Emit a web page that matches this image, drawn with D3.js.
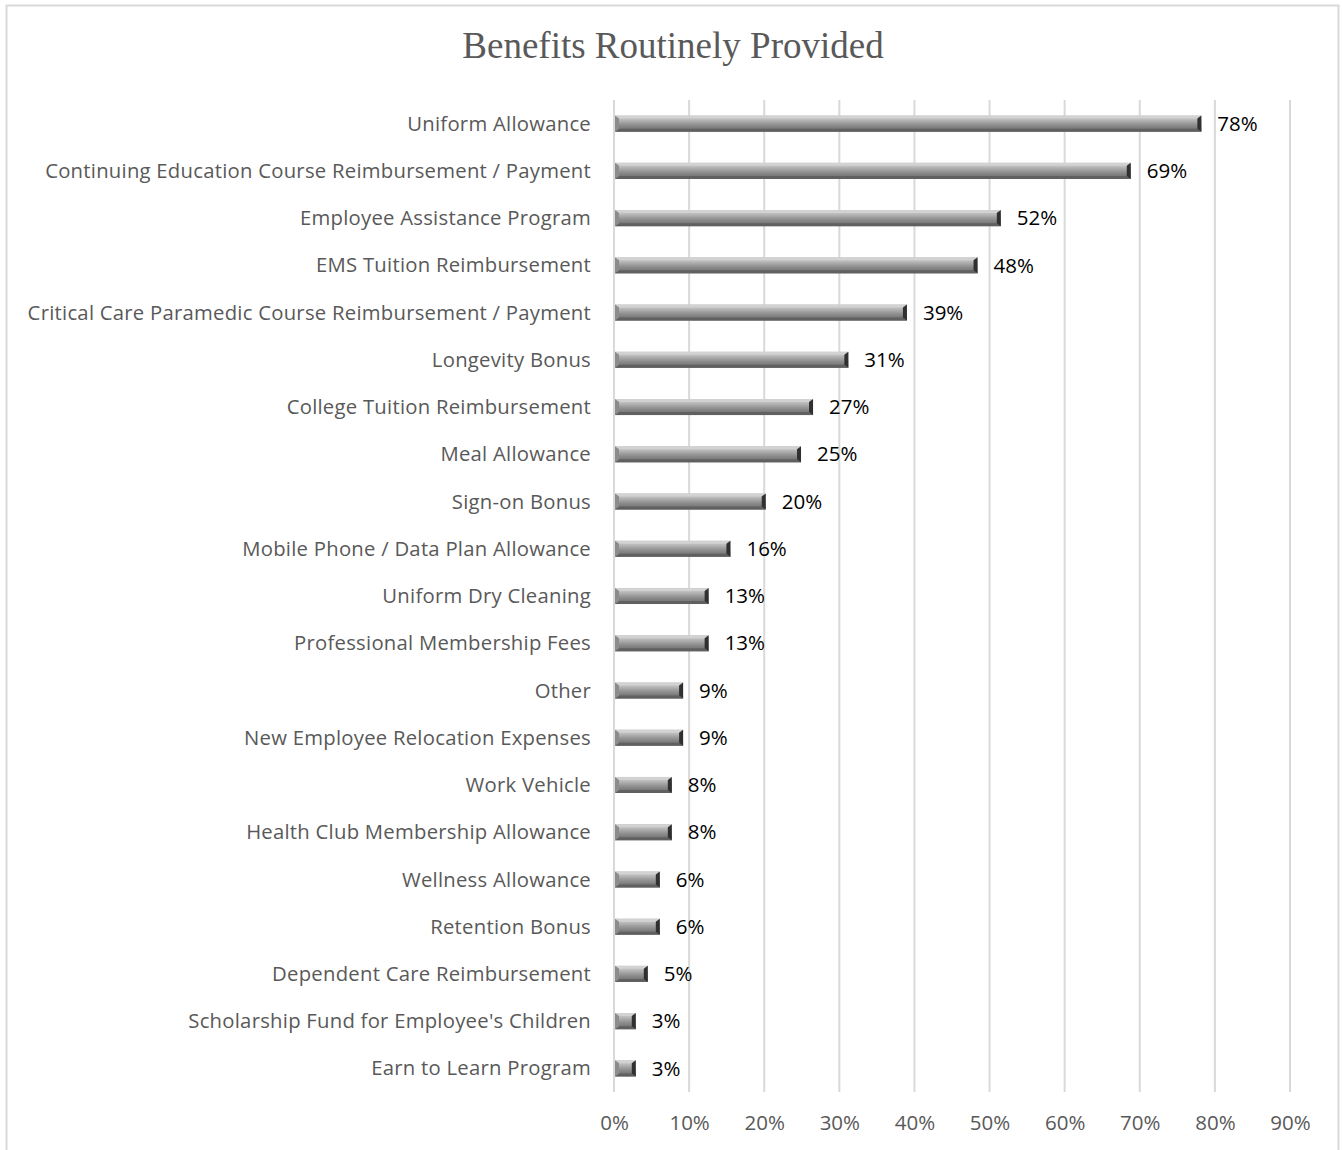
<!DOCTYPE html>
<html>
<head>
<meta charset="utf-8">
<script src="https://cdn.jsdelivr.net/npm/d3@7"></script>
<style>
  html, body { margin: 0; padding: 0; background: #fff; }
  svg { display: block; }
</style>
</head>
<body>
<svg id="chart" width="1342" height="1150"></svg>
<script>
const chartTitle = "Benefits Routinely Provided";
const categories = [
  "Uniform Allowance",
  "Continuing Education Course Reimbursement / Payment",
  "Employee Assistance Program",
  "EMS Tuition Reimbursement",
  "Critical Care Paramedic Course Reimbursement / Payment",
  "Longevity Bonus",
  "College Tuition Reimbursement",
  "Meal Allowance",
  "Sign-on Bonus",
  "Mobile Phone / Data Plan Allowance",
  "Uniform Dry Cleaning",
  "Professional Membership Fees",
  "Other",
  "New Employee Relocation Expenses",
  "Work Vehicle",
  "Health Club Membership Allowance",
  "Wellness Allowance",
  "Retention Bonus",
  "Dependent Care Reimbursement",
  "Scholarship Fund for Employee's Children",
  "Earn to Learn Program"
];
// percentages (bar lengths; labels are rounded)
const values = [78.2, 68.8, 51.5, 48.4, 39.0, 31.2, 26.5, 24.9, 20.2, 15.5, 12.6, 12.6, 9.2, 9.2, 7.7, 7.7, 6.1, 6.1, 4.5, 2.9, 2.9];
const tickValues = [0, 10, 20, 30, 40, 50, 60, 70, 80, 90];

const svg = d3.select("#chart");

// chart border (bottom edge outside the visible area)
svg.append("rect")
  .attr("x", 6.5).attr("y", 5.5)
  .attr("width", 1332).attr("height", 1200)
  .attr("fill", "#fff").attr("stroke", "#d9d9d9").attr("stroke-width", 2);

svg.append("text")
  .attr("x", 673).attr("y", 58)
  .attr("text-anchor", "middle")
  .attr("font-family", "'Liberation Serif', 'DejaVu Serif', serif")
  .attr("font-size", 37)
  .attr("fill", "#595959")
  .text(chartTitle);

const x = d3.scaleLinear().domain([0, 90]).range([614, 1290]);
const y = d3.scaleBand().domain(categories).range([100, 1092]).paddingInner(0.66).paddingOuter(0.33);

// gridlines
svg.append("g").selectAll("line").data(tickValues).join("line")
  .attr("x1", d => x(d)).attr("x2", d => x(d))
  .attr("y1", 100).attr("y2", 1092)
  .attr("stroke", "#d9d9d9").attr("stroke-width", 2);

const sans = "'Open Sans', 'Noto Sans', sans-serif";

// x-axis labels
const xAxis = d3.axisBottom(x).tickValues(tickValues).tickFormat(d => d + "%").tickSize(0).tickPadding(0);
const gx = svg.append("g").attr("transform", "translate(0,1130)").call(xAxis);
gx.select(".domain").remove();
gx.selectAll("text")
  .attr("font-family", sans)
  .attr("font-size", 20.5)
  .attr("fill", "#595959")
  .attr("dy", 0);

// y-axis labels
const yAxis = d3.axisLeft(y).tickSize(0).tickPadding(0);
const gy = svg.append("g").attr("transform", "translate(591,0)").call(yAxis);
gy.select(".domain").remove();
gy.selectAll("text")
  .attr("font-family", sans)
  .attr("font-size", 20.3)
  .attr("letter-spacing", 0.25)
  .attr("fill", "#595959")
  .attr("dy", "0.35em");

// gradient for bars
const defs = svg.append("defs");
const grad = defs.append("linearGradient").attr("id", "barGrad")
  .attr("x1", 0).attr("y1", 0).attr("x2", 0).attr("y2", 1);
[[0, "#c8c8c8"], [0.2, "#c0c0c0"], [0.35, "#adadad"], [0.55, "#939393"], [0.75, "#7e7e7e"], [1, "#6c6c6c"]]
  .forEach(([o, c]) => grad.append("stop").attr("offset", o).attr("stop-color", c));

const bh = y.bandwidth();
const bars = svg.append("g").selectAll("g").data(categories).join("g");
bars.each(function(c, i) {
  const g = d3.select(this);
  const x0 = x(0) + 1, x1 = x(values[i]);
  const y0 = y(c), y1 = y0 + bh;
  const b = Math.min(4, (x1 - x0) / 3);
  const pts = arr => arr.map(p => p.join(",")).join(" ");
  g.append("rect").attr("x", x0).attr("y", y0).attr("width", x1 - x0).attr("height", bh)
    .attr("fill", "url(#barGrad)");
  g.append("polygon").attr("points", pts([[x0, y0], [x1, y0], [x1 - b, y0 + 3], [x0 + b, y0 + 3]])).attr("fill", "#d2d2d2");
  g.append("polygon").attr("points", pts([[x0, y1], [x1, y1], [x1 - b, y1 - 3], [x0 + b, y1 - 3]])).attr("fill", "#606060");
  g.append("polygon").attr("points", pts([[x0, y0], [x0 + b, y0 + 3], [x0 + b, y1 - 3], [x0, y1]])).attr("fill", "#8c8c8c");
  g.append("polygon").attr("points", pts([[x1, y0], [x1 - b, y0 + 3], [x1 - b, y1 - 3], [x1, y1]])).attr("fill", "#303030");
});

// data labels
svg.append("g").selectAll("text").data(categories).join("text")
  .attr("x", (c, i) => x(values[i]) + 16)
  .attr("y", c => y(c) + bh / 2)
  .attr("dy", "0.35em")
  .attr("font-family", sans)
  .attr("font-size", 20.5)
  .attr("fill", "#000")
  .text((c, i) => Math.round(values[i]) + "%");
</script>
</body>
</html>
